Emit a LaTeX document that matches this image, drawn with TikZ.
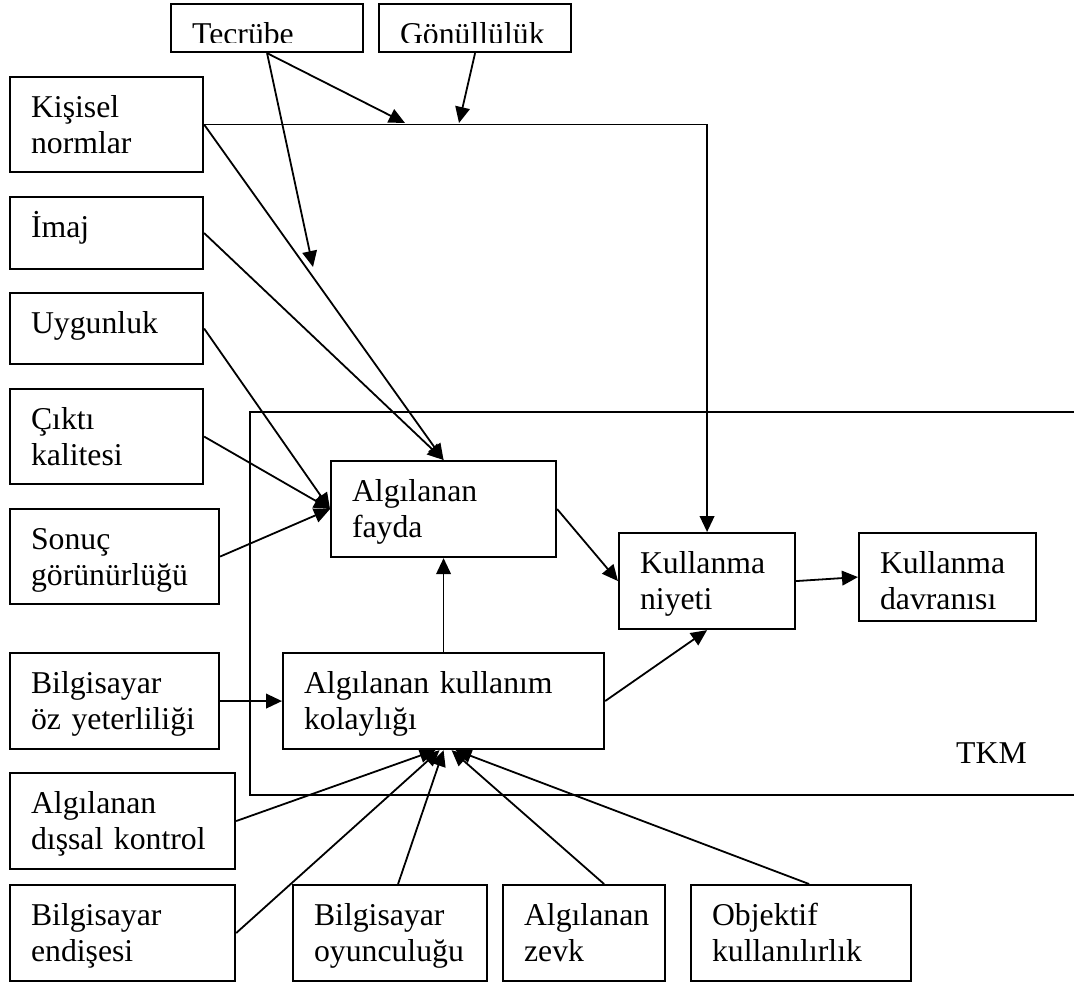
\documentclass[tikz,border=0pt]{standalone}
\usepackage{fontspec}
\setmainfont{Liberation Serif}
\usetikzlibrary{arrows.meta,calc}
\begin{document}
\begin{tikzpicture}[x=0.75pt,y=-0.75pt,
  box/.style={draw, line width=1.6pt, rectangle, anchor=north west,
    inner xsep=15.75pt, inner ysep=0pt, text height=30.5pt, align=left,
    font=\fontsize{23.8pt}{27pt}\selectfont},
  link/.style={line width=1.35pt},
  arr/.style={link, -{Triangle[length=12pt,width=11pt]}},
  frame/.style={line width=1.6pt}]
\useasboundingbox (0,0) rectangle (1074,985);

% moderators along the top (their labels overflow the boxes and are cut)
\node[box, text width=112.5pt, text depth=5.5pt] (tec) at (170,3) {};
\node[box, text width=112.5pt, text depth=5.5pt] (gon) at (378,3) {};
\begin{scope}
  \clip (0,0) rectangle (1074,42);
  \node[box, draw=none, text width=112.5pt, text depth=5.5pt] (tec-t) at (170,3) {Tecrübe};
  \node[box, draw=none, text width=112.5pt, text depth=5.5pt] (gon-t) at (378,3) {Gönüllülük};
\end{scope}

% external factors, left column
\node[box, text width=113.25pt, text depth=40.75pt] (kis) at (9,76)  {Kişisel\\normlar};
\node[box, text width=113.25pt, text depth=23.5pt]  (ima) at (9,196) {İmaj};
\node[box, text width=113.25pt, text depth=22.75pt] (uyg) at (9,292) {Uygunluk};
\node[box, text width=113.25pt, text depth=40.75pt] (cik) at (9,388) {Çıktı\\kalitesi};
\node[box, text width=125.25pt, text depth=40.75pt] (son) at (9,508) {Sonuç\\görünürlüğü};
\node[box, text width=125.25pt, text depth=41.5pt]  (bil) at (9,652) {Bilgisayar\\öz yeterliliği};
\node[box, text width=137.25pt, text depth=41.5pt]  (dis) at (9,772) {Algılanan\\dışsal kontrol};
\node[box, text width=137.25pt, text depth=41.5pt]  (end) at (9,884) {Bilgisayar\\endişesi};

% external factors, bottom row
\node[box, text width=114pt,    text depth=41.5pt] (oyu) at (292,884) {Bilgisayar\\oyunculuğu};
\node[box, text width=90pt,     text depth=41.5pt] (zev) at (502,884) {Algılanan\\zevk};
\node[box, text width=133.5pt,  text depth=41.5pt] (obj) at (690,884) {Objektif\\kullanılırlık};

% TKM frame, open to the right
\draw[frame] (1080,412) -- (250,412) -- (250,795) -- (1080,795);
\node[anchor=base east, inner sep=0pt, font=\fontsize{23.8pt}{27pt}\selectfont] (tkm) at (1027,763) {TKM};

% core model
\node[box, text width=137.25pt, text depth=41.5pt] (fay) at (330,460) {Algılanan\\fayda};
\node[box, text width=209.25pt, text depth=41.5pt] (kul) at (282,652) {Algılanan kullanım\\kolaylığı};
\node[box, text width=100.5pt,  text depth=41.5pt] (niy) at (618,532) {Kullanma\\niyeti};
\node[box, text width=101.25pt, text depth=35.5pt] (dav) at (858,532) {Kullanma\\davranısı};

% points where moderator arrows meet other paths
\coordinate (j1) at (405,123);
\coordinate (j2) at (459,123);
\coordinate (j3) at (313,267);

% connectors
\draw[arr] (kis.east) -| (niy.north);
\draw[arr] (kis.east) -- (fay.north);
\draw[arr] (ima.east) -- (fay.north);
\draw[arr] (uyg.east) -- (fay.west);
\draw[arr] (cik.east) -- (fay.west);
\draw[arr] (son.east) -- (fay.west);
\draw[arr] (tec.south) -- (j1);
\draw[arr] (tec.south) -- (j3);
\draw[arr] (gon.south) -- (j2);
\draw[arr] (kul.north) -- (fay.south);
\draw[arr] (bil.east) -- (kul.west);
\draw[arr] (kul.east) -- (niy.south);
\draw[arr] (fay.east) -- (niy.west);
\draw[arr] (niy.east) -- (dav.west);
\draw[arr] (dis.east) -- ($(kul.south)+(-8,0)$);
\draw[arr] (end.east) -- ($(kul.south)+(-4,0)$);
\draw[arr] ($(oyu.north)+(8,0)$) -- (kul.south);
\draw[arr] ($(zev.north)+(20,0)$) -- ($(kul.south)+(8,0)$);
\draw[arr] ($(obj.north)+(8,0)$) -- ($(kul.south)+(12,0)$);
\end{tikzpicture}
\end{document}
